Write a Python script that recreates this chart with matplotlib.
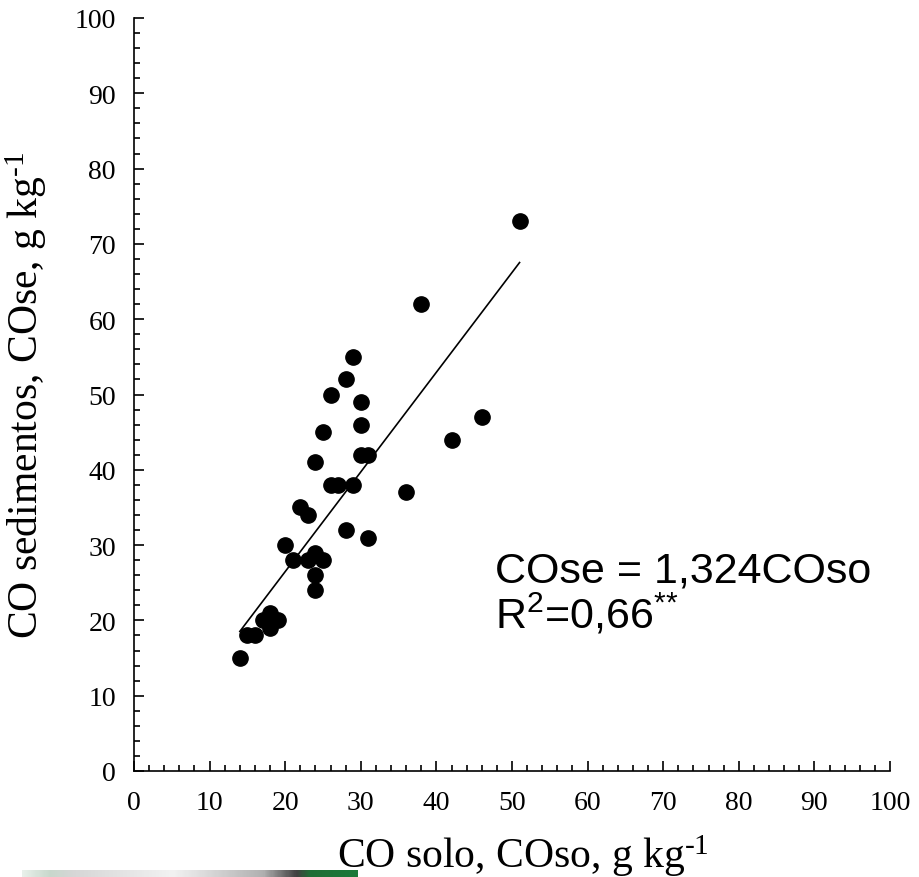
import numpy as np
import matplotlib
matplotlib.use("Agg")
import matplotlib.pyplot as plt
from matplotlib.colors import LinearSegmentedColormap
from matplotlib.ticker import MultipleLocator

# CO no solo (x) e CO nos sedimentos (y), g kg-1
co_solo = [14, 15, 16, 17, 18, 19, 18, 20, 21, 22, 23, 23, 24, 25, 24, 24,
           24, 25, 26, 26, 27, 28, 28, 29, 29, 30, 30, 30, 31, 31, 36, 38,
           42, 46, 51]
co_sed = [15, 18, 18, 20, 21, 20, 19, 30, 28, 35, 34, 28, 29, 28, 26, 24,
          41, 45, 50, 38, 38, 52, 32, 55, 38, 49, 46, 42, 42, 31, 37, 62,
          44, 47, 73]

# ajuste linear pela origem
slope = 1.324
r2 = 0.66
fit_x = [min(co_solo), max(co_solo)]

serif = ["Liberation Serif", "DejaVu Serif"]
sans = ["Liberation Sans", "DejaVu Sans"]
sup_m1 = "$\\mathregular{^{\u2010" + "1}}$"

fig = plt.figure(figsize=(9.2, 8.78), dpi=100)
ax = fig.add_axes([134 / 920, 106 / 878, 756 / 920, 753 / 878])

ax.plot(co_solo, co_sed, "o", color="black", markersize=11, zorder=3)
ax.plot(fit_x, [slope * v for v in fit_x], color="black", lw=1.2)

ax.set_xlim(0, 100)
ax.set_ylim(0, 100)
ax.xaxis.set_major_locator(MultipleLocator(10))
ax.yaxis.set_major_locator(MultipleLocator(10))
ax.xaxis.set_minor_locator(MultipleLocator(2))
ax.yaxis.set_minor_locator(MultipleLocator(2))
ax.tick_params(which="both", direction="in", width=1.2, top=False, right=False)
ax.tick_params(which="major", length=7)
ax.tick_params(which="minor", length=4)
ax.tick_params(axis="x", which="major", pad=14)
ax.tick_params(axis="y", which="major", pad=13)
for lab in ax.get_xticklabels() + ax.get_yticklabels():
    lab.set_family(serif)
    lab.set_fontsize(20)

for side in ["top", "right"]:
    ax.spines[side].set_visible(False)
for side in ["left", "bottom"]:
    ax.spines[side].set_linewidth(1.2)

ax.set_xlabel("CO solo, COso, g kg" + sup_m1, family=serif, fontsize=30)
ax.xaxis.label.set_va("baseline")
ax.xaxis.set_label_coords(0.515, -0.1275)
ax.set_ylabel("CO sedimentos, COse, g kg" + sup_m1, family=serif, fontsize=30)
ax.yaxis.set_label_coords(-0.113, 0.5)

ax.text(47.75, 25.2, "COse = %sCOso" % f"{slope:.3f}".replace(".", ","),
        family=sans, fontsize=31, va="baseline")
ax.text(47.75, 19.1, r"R$\mathregular{^2}$=%s$\mathregular{^{{*}{*}}}$" % f"{r2:.2f}".replace(".", ","),
        family=sans, fontsize=31, va="baseline")

# faixa decorativa no rodape
bar = fig.add_axes([22 / 920, 0, 336 / 920, 7 / 878])
cmap = LinearSegmentedColormap.from_list(
    "faixa", [(0.0, "#e8f0ea"), (0.08, "#c8d8cc"), (0.15, "#d6d6d6"),
              (0.45, "#f2f2f2"), (0.72, "#b0b0b0"), (0.82, "#404040"),
              (0.86, "#1f6e36"), (1.0, "#1a7a3a")])
bar.imshow(np.linspace(0, 1, 300)[None, :], aspect="auto", cmap=cmap)
bar.axis("off")

fig.savefig("out.png", dpi=100)
